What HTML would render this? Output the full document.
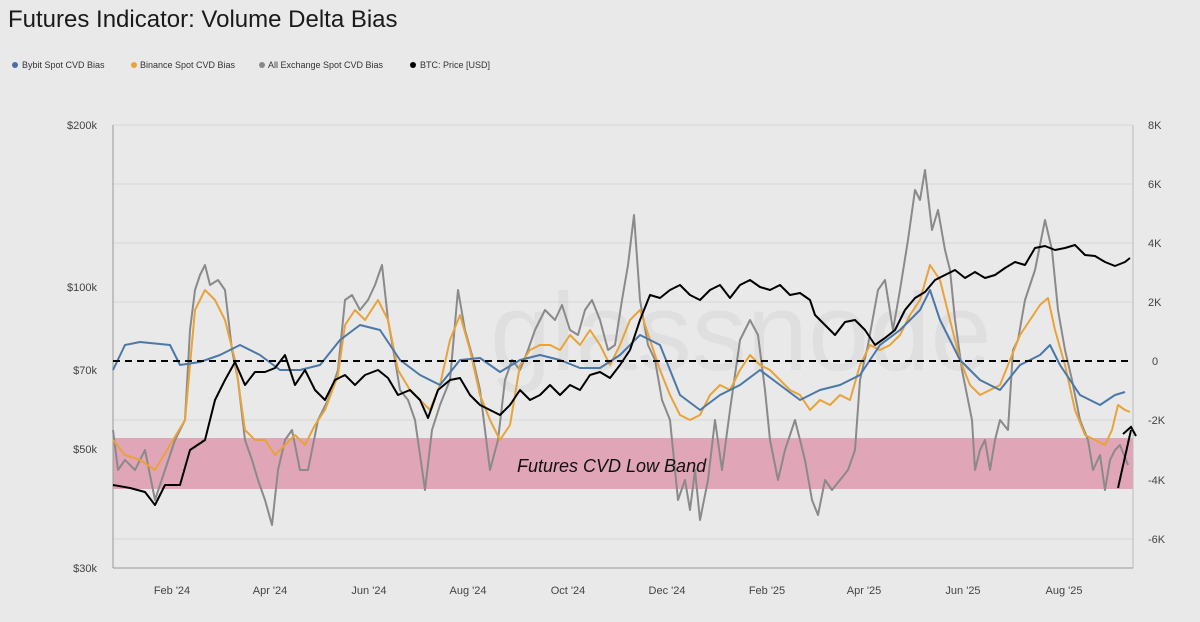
<!DOCTYPE html><html><head><style>
body{margin:0;background:#e9e9e9;font-family:"Liberation Sans",sans-serif;}
svg text{font-family:"Liberation Sans",sans-serif;}
</style></head><body>
<svg width="1200" height="617" xmlns="http://www.w3.org/2000/svg">
<rect width="1200" height="617" fill="#e9e9e9"/>
<text x="8" y="27" font-size="24" fill="#1a1a1a">Futures Indicator: Volume Delta Bias</text>
<g font-size="9" fill="#333">
<circle cx="15" cy="65" r="3" fill="#4a6fa5"/><text x="22" y="68">Bybit Spot CVD Bias</text>
<circle cx="134" cy="65" r="3" fill="#e8a33a"/><text x="140" y="68">Binance Spot CVD Bias</text>
<circle cx="262" cy="65" r="3" fill="#888"/><text x="268" y="68">All Exchange Spot CVD Bias</text>
<circle cx="413" cy="65" r="3" fill="#000"/><text x="420" y="68">BTC: Price [USD]</text>
</g>
<g stroke="#d6d6d6" stroke-width="1">
<line x1="113" y1="125" x2="1133" y2="125"/><line x1="113" y1="184" x2="1133" y2="184"/>
<line x1="113" y1="243" x2="1133" y2="243"/><line x1="113" y1="302" x2="1133" y2="302"/>
<line x1="113" y1="420" x2="1133" y2="420"/><line x1="113" y1="480" x2="1133" y2="480"/>
<line x1="113" y1="539" x2="1133" y2="539"/>
</g>
<rect x="113" y="438" width="1020" height="51" fill="#e0a6b8"/>
<text x="490" y="370" font-size="110" fill="#000" opacity="0.035">glassnode</text>
<line x1="113" y1="125" x2="113" y2="568" stroke="#999"/>
<line x1="1133" y1="125" x2="1133" y2="568" stroke="#bbb"/>
<line x1="113" y1="568" x2="1133" y2="568" stroke="#999"/>
<g font-size="11" fill="#444" text-anchor="end">
<text x="97" y="129">$200k</text><text x="97" y="291">$100k</text><text x="97" y="374">$70k</text><text x="97" y="453">$50k</text><text x="97" y="572">$30k</text>
</g>
<g font-size="11" fill="#444">
<text x="1148" y="129">8K</text><text x="1148" y="188">6K</text><text x="1148" y="247">4K</text><text x="1148" y="306">2K</text><text x="1152" y="365">0</text><text x="1148" y="424">-2K</text><text x="1148" y="484">-4K</text><text x="1148" y="543">-6K</text>
</g>
<g font-size="11" fill="#444" text-anchor="middle">
<text x="172" y="594">Feb '24</text><text x="270" y="594">Apr '24</text><text x="369" y="594">Jun '24</text><text x="468" y="594">Aug '24</text><text x="568" y="594">Oct '24</text><text x="667" y="594">Dec '24</text><text x="767" y="594">Feb '25</text><text x="864" y="594">Apr '25</text><text x="963" y="594">Jun '25</text><text x="1064" y="594">Aug '25</text>
</g>
<g fill="none" stroke-width="2" stroke-linejoin="round">
<polyline stroke="#8a8a8a" points="113,430 118,470 125,460 135,470 145,450 155,500 165,470 175,440 185,420 190,330 195,290 200,275 205,265 210,285 218,280 225,290 232,350 238,380 245,440 252,460 258,480 265,500 272,525 278,470 285,440 292,430 300,470 308,470 318,420 328,400 338,370 345,300 352,295 360,310 368,300 375,285 382,265 388,320 395,360 400,390 408,400 415,420 425,490 432,430 440,405 450,380 458,290 465,330 472,355 480,390 490,470 498,440 505,380 512,360 520,370 528,350 535,330 545,310 555,320 562,305 570,330 578,335 585,310 592,300 600,320 608,350 615,345 622,300 628,265 634,215 640,300 648,345 655,360 662,400 670,420 678,500 685,480 690,510 695,470 700,520 708,480 715,420 722,470 730,410 740,340 750,320 758,335 765,390 770,440 778,480 785,450 795,420 805,460 812,500 818,515 825,480 832,490 840,480 848,470 855,450 860,380 868,345 878,290 885,280 893,330 900,290 908,240 915,190 920,200 925,170 932,230 938,210 945,250 950,270 955,320 962,370 968,400 972,420 975,470 980,450 985,440 990,470 995,440 1000,420 1008,430 1013,350 1018,340 1025,300 1035,270 1045,220 1052,250 1058,310 1065,350 1072,380 1080,420 1088,440 1093,470 1100,455 1105,490 1110,460 1115,450 1120,445 1128,465"/>
<polyline stroke="#e8a33a" points="113,440 125,455 140,460 155,470 170,445 185,420 195,310 205,290 215,300 225,320 235,360 245,430 255,440 265,440 275,455 285,445 295,435 305,445 315,425 325,410 338,375 345,325 355,310 365,320 378,300 388,320 398,370 410,390 420,400 430,410 440,385 450,340 460,315 470,350 480,395 490,420 500,440 510,425 520,365 530,350 540,345 550,345 560,350 570,335 580,345 590,330 600,345 610,365 620,345 630,320 640,310 650,340 660,370 670,395 680,415 690,420 700,415 710,395 720,385 730,390 740,370 750,355 760,365 770,370 780,380 790,390 800,395 810,410 820,400 830,405 840,395 850,400 860,365 870,345 880,350 890,345 900,335 910,315 920,300 930,265 940,280 950,320 960,360 970,385 980,395 990,390 1000,385 1010,360 1020,335 1030,320 1040,305 1048,298 1055,330 1065,365 1075,410 1085,435 1095,440 1105,445 1112,430 1118,405 1125,410 1130,412"/>
<polyline stroke="#4a78a8" points="113,370 125,345 140,342 170,345 180,365 200,362 220,355 240,345 260,355 280,370 300,370 320,365 340,340 360,325 380,330 400,360 420,375 440,385 460,360 480,358 500,372 520,360 540,355 560,360 580,368 600,368 620,355 640,335 660,345 680,395 700,410 720,395 740,385 760,370 780,385 800,400 820,390 840,385 860,375 880,345 900,330 920,310 930,290 940,320 950,340 960,360 980,380 1000,390 1020,365 1040,355 1050,345 1060,365 1080,395 1100,405 1115,395 1125,392"/>
<polyline stroke="#000" points="113,485 130,488 145,492 155,505 165,485 180,485 190,450 205,440 215,400 225,380 235,362 245,385 255,372 265,372 275,368 285,355 295,385 305,370 315,390 325,400 335,380 345,375 355,385 365,375 378,370 388,378 398,395 410,390 420,400 428,418 438,390 450,380 460,378 470,395 480,405 490,410 500,415 510,405 520,390 530,400 540,395 550,385 560,395 570,385 580,390 590,375 600,372 610,378 620,365 630,350 640,320 650,295 660,298 670,290 680,285 690,295 700,300 710,290 720,285 730,298 740,285 750,280 760,287 770,290 780,285 790,295 800,293 810,300 815,315 825,325 835,335 845,322 855,320 865,330 875,345 885,338 895,330 905,310 915,298 925,292 935,280 945,275 955,270 965,278 975,272 985,278 995,275 1005,268 1015,262 1025,265 1035,248 1045,246 1055,250 1065,248 1075,245 1085,255 1095,256 1105,262 1115,266 1125,262 1130,258"/>
</g>
<line x1="113" y1="361" x2="1133" y2="361" stroke="#000" stroke-width="2" stroke-dasharray="7,5"/>
<line x1="1118" y1="488" x2="1131" y2="430" stroke="#000" stroke-width="2"/>
<polyline points="1123,434 1131,427 1136,436" fill="none" stroke="#000" stroke-width="2"/>
<text x="517" y="472" font-size="18" font-style="italic" fill="#111">Futures CVD Low Band</text>
</svg>
</body></html>
